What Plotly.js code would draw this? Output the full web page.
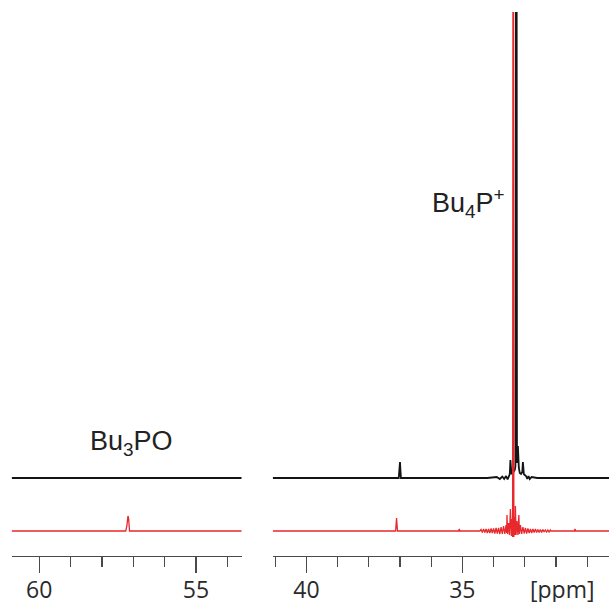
<!DOCTYPE html>
<html>
<head>
<meta charset="utf-8">
<script src="https://cdn.plot.ly/plotly-3.0.1.min.js"></script>
<style>html,body{margin:0;padding:0;background:#fff}#chart{width:609px;height:602px}</style>
</head>
<body>
<div id="chart"></div>
<script>
// ---- data (ppm, intensity in arbitrary units) ----
var blackLeftPpm = [60.88, 57.5, 55.0, 53.54];
var blackLeftInt = [0, 0, 0, 0];

var redLeftPpm = [60.88, 57.24, 57.20, 57.17, 57.15, 57.12, 53.54];
var redLeftInt = [0, 0, 6, 15, 13, 0, 0];

var blackRightPpm = [41.08, 37.04, 37.00, 36.97, 34.2, 33.90, 33.80, 33.72, 33.66, 33.60, 33.55, 33.50, 33.48, 33.46, 33.43, 33.40, 33.36, 33.32, 33.30, 33.27, 33.25, 33.22, 33.19, 33.16, 33.12, 33.08, 33.06, 33.03, 33.00, 32.96, 32.92, 32.88, 32.84, 32.78, 32.6, 30.3];
var blackRightInt = [0, 0, 16, 0, 0, 1, -1, 1.5, -1, 2, -1.5, 3, 4, 18, 5, 4, 6, 8, 12, 1000, 15, 32, 10, 5, 4, 6, 16, 4, 3, 2, -1, 2, -1, 1, 0, 0];

var redRightPpm = [41.08, 37.14, 37.11, 37.08, 35.12, 35.10, 35.08, 34.44, 34.40, 34.36, 34.32, 34.28, 34.24, 34.20, 34.16, 34.12, 34.08, 34.04, 34.00, 33.96, 33.92, 33.88, 33.84, 33.80, 33.76, 33.72, 33.68, 33.64, 33.60, 33.58, 33.57, 33.55, 33.52, 33.49, 33.46, 33.43, 33.41, 33.39, 33.37, 33.35, 33.33, 33.31, 33.30, 33.28, 33.25, 33.22, 33.19, 33.17, 33.14, 33.10, 33.06, 33.02, 32.98, 32.94, 32.90, 32.86, 32.82, 32.78, 32.74, 32.70, 32.66, 32.62, 32.58, 32.54, 32.50, 32.46, 32.42, 32.38, 32.34, 32.30, 32.26, 32.22, 32.18, 32.16, 31.41, 31.39, 31.37, 30.3];
var redRightInt = [0, 0, 13, 0, 0, 2, 0, 0, 1.5, -1.5, 2, -1.5, 2, -2, 2, -2, 2.5, -2, 2.5, -2.5, 3, -2.5, 3, -3, 4, -3, 5, -3, 6, -2, 16, -3, 8, -4, 22, -5, 12, -6, 1000, -6, 14, -4, 25, -4, 10, -4, 16, -3, 6, -3, 4, -2.5, 3, -2.5, 2.5, -2, 2, -2, 2, -1.5, 2, -1.5, 1.5, -1.5, 1.5, -1.5, 1.5, -1, 1, -1, 1, -1, 1, 0, 0, 2, 0, 0];

var majorTicks = ["60", "55", "40", "35"];
var unitLabel = "[ppm]";
var labelBu3PO = "Bu<sub>3</sub>PO";
var labelBu4P = "Bu<sub>4</sub>P<sup>+</sup>";

// ---- stacking offsets ----
var blackOffset = 78, redOffset = 25;
function shift(arr, off) { return arr.map(function (v) { return v + off; }); }

var BLACK = '#141414', RED = '#e8282c';

var traces = [
  {x: redLeftPpm, y: shift(redLeftInt, redOffset), xaxis: 'x', yaxis: 'y', mode: 'lines', line: {color: RED, width: 1.3}, hoverinfo: 'skip'},
  {x: blackLeftPpm, y: shift(blackLeftInt, blackOffset), xaxis: 'x', yaxis: 'y', mode: 'lines', line: {color: BLACK, width: 2.2}, hoverinfo: 'skip'},
  {x: blackRightPpm, y: shift(blackRightInt, blackOffset), xaxis: 'x2', yaxis: 'y', mode: 'lines', line: {color: BLACK, width: 1.8}, hoverinfo: 'skip'},
  {x: redRightPpm, y: shift(redRightInt, redOffset), xaxis: 'x2', yaxis: 'y', mode: 'lines', line: {color: RED, width: 1.3}, hoverinfo: 'skip'}
];

var axisCommon = {
  showgrid: false, zeroline: false, showline: true, linecolor: '#4a4a4a', linewidth: 1.3,
  ticks: 'outside', ticklen: 16, tickwidth: 1.3, tickcolor: '#4a4a4a',
  tickfont: {family: 'Open Sans, sans-serif', size: 23, color: '#2a2a2a'},
  ticklabelstandoff: -3,
  tickmode: 'linear', tick0: 0, dtick: 5,
  minor: {ticks: 'outside', ticklen: 10, tickwidth: 1.3, tickcolor: '#4a4a4a', dtick: 1, tick0: 0, showgrid: false},
  fixedrange: true
};

var layout = {
  width: 609, height: 602,
  margin: {l: 0, r: 0, t: 12, b: 46},
  paper_bgcolor: '#fff', plot_bgcolor: '#fff',
  showlegend: false,
  xaxis: Object.assign({}, axisCommon, {domain: [0.0192, 0.3969], range: [60.88, 53.54], anchor: 'y'}),
  xaxis2: Object.assign({}, axisCommon, {domain: [0.4478, 1], range: [41.08, 30.3], anchor: 'y'}),
  yaxis: {range: [0, 544], visible: false, fixedrange: true},
  annotations: [
    {x: 57.07, y: 113, xref: 'x', yref: 'y', text: labelBu3PO, showarrow: false,
     font: {family: 'Liberation Sans, Arial, sans-serif', size: 27, color: '#222'}, xanchor: 'center', yanchor: 'middle'},
    {x: 34.82, y: 353, xref: 'x2', yref: 'y', text: labelBu4P, showarrow: false,
     font: {family: 'Liberation Sans, Arial, sans-serif', size: 27, color: '#222'}, xanchor: 'center', yanchor: 'middle'},
    {x: 31.8, y: -0.061, xref: 'x2', yref: 'paper', text: unitLabel, showarrow: false,
     font: {family: 'Open Sans, sans-serif', size: 23, color: '#2a2a2a'}, xanchor: 'center', yanchor: 'middle'}
  ]
};

Plotly.newPlot('chart', traces, layout, {staticPlot: true, displayModeBar: false});
</script>
</body>
</html>
